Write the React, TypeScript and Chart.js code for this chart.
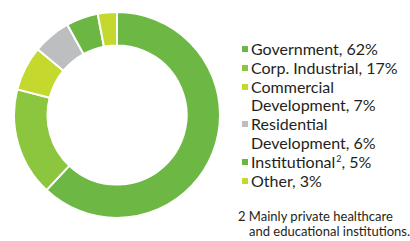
import React, { useEffect, useRef } from "react";
import { Chart, registerables } from "chart.js";

Chart.register(...registerables);

const categories = [
  "Government",
  "Corp. Industrial",
  "Commercial Development",
  "Residential Development",
  "Institutional",
  "Other",
];
const values = [62, 17, 7, 6, 5, 3];
const colors = ["#6db844", "#8cc63f", "#c4d82e", "#bcbec0", "#6cb644", "#c4d82e"];
const legendLines: { text: string; sup?: string; rest?: string; color?: string }[] = [
  { text: "Government, 62%", color: colors[0] },
  { text: "Corp. Industrial, 17%", color: colors[1] },
  { text: "Commercial", color: colors[2] },
  { text: "Development, 7%" },
  { text: "Residential", color: colors[3] },
  { text: "Development, 6%" },
  { text: "Institutional", sup: "2", rest: ", 5%", color: colors[4] },
  { text: "Other, 3%", color: colors[5] },
];
const footnote = ["2 Mainly private healthcare", "and educational institutions."];

export default function App() {
  const ref = useRef<HTMLCanvasElement>(null);
  useEffect(() => {
    document.body.style.margin = "0";
    const chart = new Chart(ref.current!, {
      type: "doughnut",
      data: {
        labels: categories,
        datasets: [
          {
            data: values,
            backgroundColor: colors,
            borderColor: "#ffffff",
            borderWidth: 2,
          },
        ],
      },
      options: {
        animation: false,
        responsive: false,
        cutout: "67.5%",
        layout: { padding: 0 },
        plugins: { legend: { display: false }, tooltip: { enabled: false } },
      },
    });
    return () => chart.destroy();
  }, []);

  const font = "Lato, 'Open Sans', sans-serif";
  return (
    <div style={{ position: "relative", width: 410, height: 241, overflow: "hidden", background: "#fff" }}>
      <canvas
        ref={ref}
        width={208}
        height={208}
        style={{ position: "absolute", left: 12.5, top: 10.5, width: 208, height: 208 }}
      />
      {legendLines.map((l, i) => (
        <div
          key={i}
          style={{
            position: "absolute",
            left: 251,
            top: 39 + i * 18.8,
            height: 19,
            lineHeight: "19px",
            fontFamily: font,
            fontSize: 16,
            color: "#231f20",
            whiteSpace: "nowrap",
          }}
        >
          {l.color && (
            <span
              style={{
                position: "absolute",
                left: -9,
                top: 7,
                width: 6,
                height: 6,
                background: l.color,
              }}
            />
          )}
          {l.text}
          {l.sup && <sup style={{ fontSize: 9, verticalAlign: "top", lineHeight: "14px", marginLeft: 1 }}>{l.sup}</sup>}
          {l.rest}
        </div>
      ))}
      {footnote.map((t, i) => (
        <div
          key={"f" + i}
          style={{
            position: "absolute",
            left: i === 0 ? 238 : 249,
            top: 209 + i * 15,
            lineHeight: "15px",
            fontFamily: font,
            fontSize: 13,
            color: "#231f20",
            whiteSpace: "nowrap",
          }}
        >
          {t}
        </div>
      ))}
    </div>
  );
}
